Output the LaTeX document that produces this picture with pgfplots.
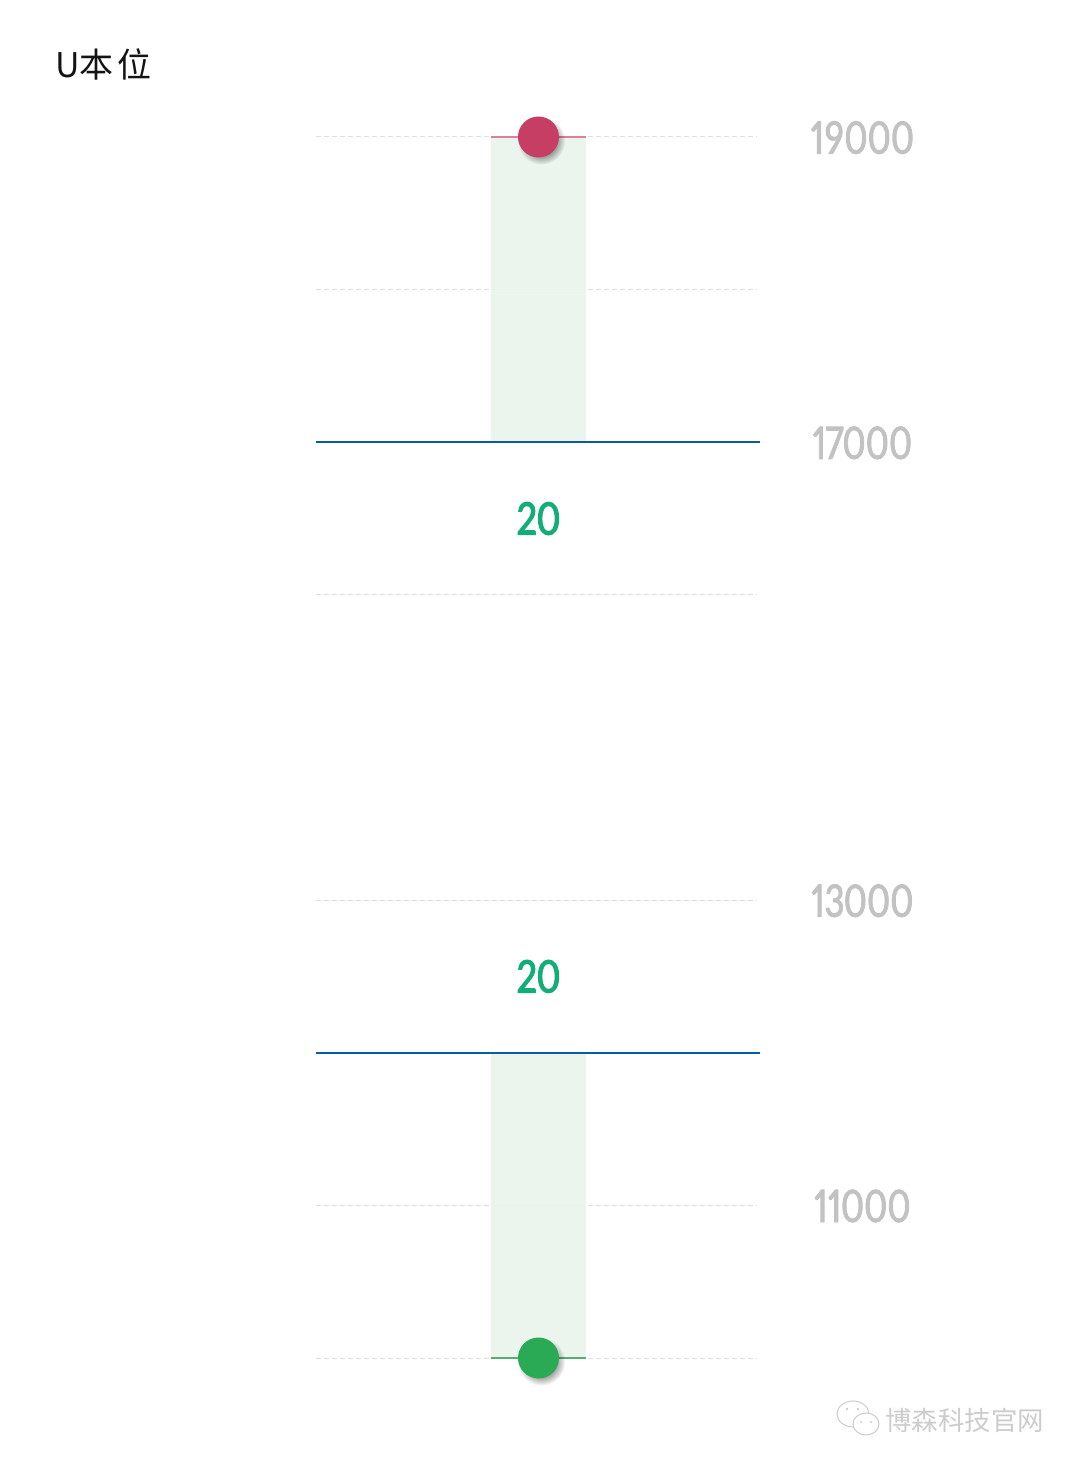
\documentclass[border=0pt]{standalone}
\usepackage{fontspec}
\usepackage{pgfplots}
\pgfplotsset{compat=1.18}
\usetikzlibrary{shadows,fadings}
\setmainfont{Carlito}
\newfontfamily\numfont[Numbers=Proportional,FakeStretch=0.79,FakeBold=1.6]{Carlito}
\newfontfamily\greenfont[Numbers=Proportional,FakeStretch=0.82,FakeBold=2.2]{Carlito}
\newfontfamily\cjk{Noto Sans CJK SC}

\definecolor{barfill}{HTML}{E9F4EC}
\definecolor{blueline}{HTML}{0A5AA5}
\definecolor{gridgrey}{HTML}{DEDEDE}
\definecolor{ticktext}{HTML}{C2C2C2}
\definecolor{redpt}{HTML}{C73E65}
\definecolor{redln}{HTML}{DD7F9B}
\definecolor{greenpt}{HTML}{2BAA55}
\definecolor{greenln}{HTML}{55AE72}
\definecolor{greentext}{HTML}{12AE75}
\definecolor{wm}{HTML}{CCCCCC}

\tikzfading[name=softshadow, inner color=transparent!0, outer color=transparent!100]

\pgfplotsset{
  soft dot/.style={
    draw=none, nodes near coords={},
    every node near coord/.append style={anchor=center, circle, inner sep=0pt, minimum size=20.5pt, fill=#1,
      circular drop shadow={shadow xshift=1.2pt, shadow yshift=-1.6pt, shadow scale=1.17,
        fill=black, opacity=1, path fading=softshadow}}},
}

\begin{document}
\begin{tikzpicture}
\begin{axis}[
    scale only axis,
    width=220.5pt, height=610.5pt,
    xmin=-4.684, xmax=4.6,
    ymin=0, ymax=8,
    clip=false,
    axis line style={draw=none},
    xtick=\empty,
    ytick={0,1,3,5,6,7,8},
    yticklabels={,11000,13000,,17000,,19000},
    yticklabel pos=right,
    major tick length=0pt,
    ymajorgrids=true,
    grid style={gridgrey, dash pattern=on 2.5pt off 1.5pt, line width=0.5pt},
    yticklabel style={anchor=center, xshift=52.5pt, yshift=-0.3pt, inner sep=0pt, text=ticktext, font=\numfont\fontsize{25}{25}\selectfont},
]
% ranges, y is the rung on the label ladder (19000 = 8, 17000 = 6, 13000 = 3, 11000 = 1)
\addplot[fill=barfill, fill opacity=0.93, draw=none] coordinates {(-1,6) (1,6) (1,8) (-1,8)} -- cycle;
\addplot[fill=barfill, fill opacity=0.93, draw=none] coordinates {(-1,0) (1,0) (1,2) (-1,2)} -- cycle;

\addplot[blueline, line width=1.1pt] coordinates {(-4.684,6) (4.663,6)};
\addplot[blueline, line width=1.1pt] coordinates {(-4.684,2) (4.663,2)};
\addplot[redln, line width=0.6pt] coordinates {(-1,8) (1,8)};
\addplot[greenln, line width=0.6pt] coordinates {(-1,0) (1,0)};

\addplot[soft dot=redpt] coordinates {(0,8)};
\addplot[soft dot=greenpt] coordinates {(0,0)};

\node[text=greentext, font=\greenfont\fontsize{25}{25}\selectfont, inner sep=0pt] at (axis cs:0,5.5) {20};
\node[text=greentext, font=\greenfont\fontsize{25}{25}\selectfont, inner sep=0pt] at (axis cs:0,2.5) {20};
\end{axis}

\node[anchor=west, inner sep=0pt, text=black!92, font=\cjk\fontsize{17}{17}\selectfont] at (-130.5pt,647pt) {U本\hspace{2pt}位};
\node[anchor=west, inner sep=0pt, text=wm, font=\cjk\fontsize{13.2}{13.2}\selectfont] at (284.5pt,-31pt) {博森科技官网};
% wechat icon of the watermark
\draw[wm, line width=0.5pt, fill=white] (268.5pt,-28pt) ellipse (8pt and 6.5pt);
\draw[wm, line width=0.5pt, fill=white] (275pt,-33pt) ellipse (6.5pt and 5.5pt);
\fill[wm] (265.5pt,-25.5pt) circle (0.7pt) (271pt,-25.5pt) circle (0.7pt) (272.5pt,-32pt) circle (0.6pt) (277.5pt,-32pt) circle (0.6pt);

\path[use as bounding box] (-158pt,-55pt) rectangle (382pt,679pt);
\end{tikzpicture}
\end{document}
